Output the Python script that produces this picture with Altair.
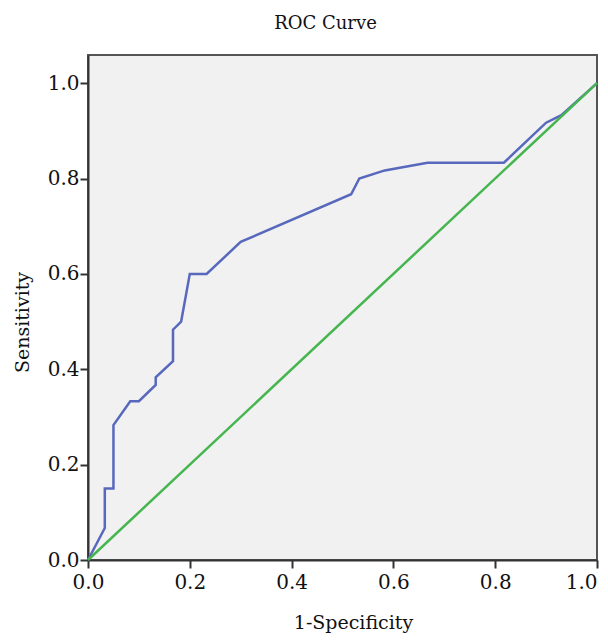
import altair as alt
import pandas as pd

# ROC curve points (1-Specificity, Sensitivity)
roc_fpr = [0.0, 0.033, 0.033, 0.050, 0.050, 0.083, 0.100, 0.133, 0.133, 0.167, 0.167,
           0.183, 0.200, 0.233, 0.300, 0.517, 0.533, 0.583, 0.667, 0.817, 0.900, 0.930, 1.0]
roc_tpr = [0.0, 0.067, 0.150, 0.150, 0.283, 0.333, 0.333, 0.367, 0.383, 0.417, 0.483,
           0.500, 0.600, 0.600, 0.667, 0.767, 0.800, 0.817, 0.833, 0.833, 0.917, 0.933, 1.0]
# Reference (chance) line
ref_x = [0.0, 1.0]
ref_y = [0.0, 1.0]

series_names = ["ROC", "Reference"]
series_colors = ["#5868bd", "#45b54f"]

rows = []
for i, (x, y) in enumerate(zip(roc_fpr, roc_tpr)):
    rows.append({"x": x, "y": y, "s": "ROC", "o": i})
for i, (x, y) in enumerate(zip(ref_x, ref_y)):
    rows.append({"x": x, "y": y, "s": "Reference", "o": i})
df = pd.DataFrame(rows)

FONT = "DejaVu Serif"
ticks = [0.0, 0.2, 0.4, 0.6, 0.8, 1.0]

chart = alt.Chart(df).mark_line(strokeWidth=2.5).encode(
    x=alt.X("x:Q",
            scale=alt.Scale(domain=[0, 1], nice=False, zero=False),
            axis=alt.Axis(title="1-Specificity", values=ticks, format=".1f",
                          grid=False, tickSize=8, tickWidth=2, tickColor="#333",
                          domainColor="#333", domainWidth=2,
                          labelFont=FONT, labelFontSize=20, labelColor="#111",
                          labelPadding=4, labelFlush=False, labelOverlap=False,
                          labelAlign=alt.expr("datum.value == 1 ? 'right' : 'center'"),
                          titleFont=FONT, titleFontSize=19, titleFontWeight="normal",
                          titleColor="#111", titleX=265, titleY=68,
                          titleBaseline="alphabetic")),
    y=alt.Y("y:Q",
            scale=alt.Scale(domain=[0, 1.059], nice=False, zero=False),
            axis=alt.Axis(title="Sensitivity", values=ticks, format=".1f",
                          grid=False, tickSize=8, tickWidth=2, tickColor="#333",
                          domainColor="#333", domainWidth=2,
                          labelFont=FONT, labelFontSize=20, labelColor="#111",
                          labelPadding=1, labelFlush=False, labelOverlap=False,
                          titleFont=FONT, titleFontSize=19, titleFontWeight="normal",
                          titleColor="#111", titleX=-66, titleY=267,
                          titleBaseline="middle")),
    color=alt.Color("s:N", scale=alt.Scale(domain=series_names, range=series_colors),
                    legend=None),
    order=alt.Order("o:Q"),
).properties(
    width=509,
    height=505,
    background="white",
    title=alt.TitleParams("ROC  Curve", font=FONT, fontSize=18, fontWeight="normal",
                          color="#111", anchor="middle", dx=-17, offset=22),
    autosize=alt.AutoSizeParams(type="none"),
    padding={"left": 80, "top": 47, "right": 3, "bottom": 73},
).configure_view(
    fill="#f1f1f1", stroke="#555", strokeWidth=2
)

chart.save("out.html", embed_options={"renderer": "svg", "actions": False})
